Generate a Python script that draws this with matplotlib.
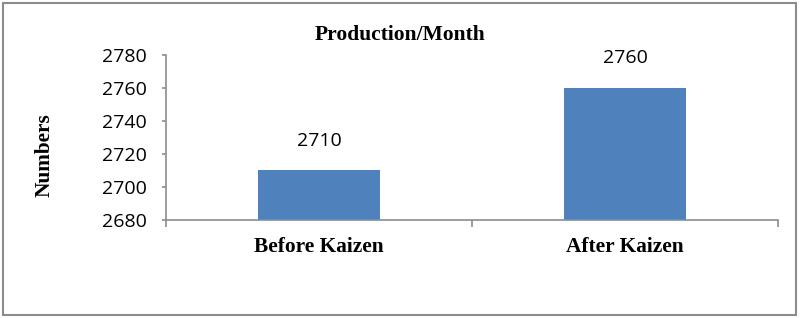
import matplotlib
matplotlib.use("Agg")
import matplotlib.pyplot as plt
from matplotlib.patches import Rectangle
import numpy as np

# data
categories = ["Before Kaizen", "After Kaizen"]
values = [2710, 2760]
y_ticks = [2680, 2700, 2720, 2740, 2760, 2780]

serif = ["Liberation Serif", "DejaVu Serif"]
sans = ["Open Sans", "DejaVu Sans"]
bar_color = "#4F81BD"
axis_gray = "#8C8C8C"

fig = plt.figure(figsize=(8, 3.18), dpi=100)
ax = fig.add_axes([0.2075, 0.3082, 0.765, 0.5189])

x = np.arange(len(categories))
bars = ax.bar(x, values, width=0.4, color=bar_color, bottom=0)

ax.set_xlim(-0.5, len(categories) - 0.5)
ax.set_ylim(y_ticks[0], y_ticks[-1])
ax.set_yticks(y_ticks)
ax.set_yticklabels([str(t) for t in y_ticks], family=sans, fontsize=14)

ax.set_xticks(x)
ax.set_xticklabels(categories, family=serif, fontsize=15.4, fontweight="bold")
ax.set_xticks(np.arange(-0.5, len(categories), 1.0), minor=True)
ax.tick_params(axis="x", which="major", length=0, pad=12)
ax.tick_params(axis="x", which="minor", length=5, width=1.2, color=axis_gray, direction="out")
ax.tick_params(axis="y", length=3, width=1.2, color=axis_gray, pad=11)

for s in ["top", "right"]:
    ax.spines[s].set_visible(False)
for s in ["left", "bottom"]:
    ax.spines[s].set_color(axis_gray)
    ax.spines[s].set_linewidth(1.2)

# value labels
for xi, v in zip(x, values):
    ax.annotate(str(v), (xi, v), xytext=(0, 15), textcoords="offset points",
                ha="center", va="bottom", family=sans, fontsize=14)

ax.set_ylabel("Numbers", family=serif, fontsize=15.3, fontweight="bold",
              va="center", ha="center")
ax.yaxis.set_label_coords(-0.198, 0.394)
fig.text(0.5, 0.89, "Production/Month", ha="center", va="center",
         family=serif, fontsize=15.5, fontweight="bold")

# outer frame
fig.patches.append(Rectangle((3 / 800, 3 / 318), 793 / 800, 312 / 318,
                             transform=fig.transFigure, fill=False,
                             edgecolor="#8C8C8C", linewidth=1.5))

fig.savefig("out.png", dpi=100, facecolor="white")
plt.close(fig)
